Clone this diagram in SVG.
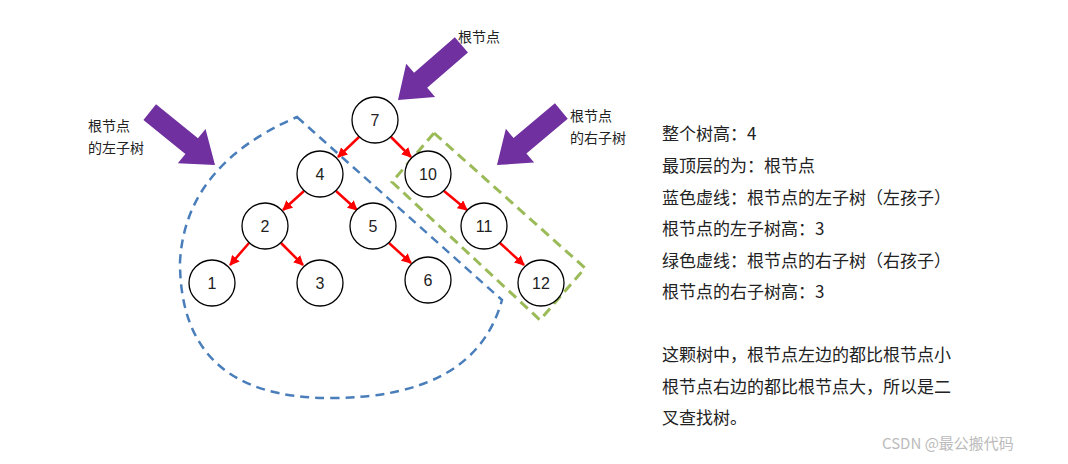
<svg xmlns="http://www.w3.org/2000/svg" width="1068" height="464" viewBox="0 0 1068 464">
<style>
text{font-family:"Noto Sans CJK SC","Liberation Sans",sans-serif;fill:#222}
.n circle{fill:#fff;stroke:#000;stroke-width:1.3}
.n text{font-size:16px;text-anchor:middle;font-family:"Liberation Sans","Noto Sans CJK SC",sans-serif}
.e line{stroke:#f00;stroke-width:2.5;marker-end:url(#ah)}
.lb{font-size:14px}
.r{font-size:17px}
.pa{fill:#7030a0}
</style>
<defs>
<marker id="ah" viewBox="0 0 10 10" refX="9" refY="5" markerWidth="4" markerHeight="4" orient="auto"><path d="M0,0L10,5L0,10z" fill="#f00"/></marker>
<polygon id="pa" class="pa" points="-84,-10 -30,-10 -30,-22 0,0 -30,22 -30,10 -84,10"/>
</defs>
<rect width="1068" height="464" fill="#fff"/>
<path d="M297,117 L502,300 Q475,398 330,398 Q180,398 180,262 Q185,165 297,117 Z" fill="none" stroke="#4a7ebb" stroke-width="2.5" stroke-dasharray="9,6"/>
<polygon points="434,133 585,268 540,320 392,182" fill="none" stroke="#9bbb59" stroke-width="3" stroke-dasharray="10,6"/>
<g id="arrows">
<use href="#pa" transform="translate(398,100) rotate(139)"/>
<use href="#pa" transform="translate(215,165) rotate(39)"/>
<use href="#pa" transform="translate(497,165) rotate(140)"/>
</g>
<text class="lb" x="458" y="42">根节点</text>
<text class="lb" x="88" y="131">根节点</text>
<text class="lb" x="88" y="153">的左子树</text>
<text class="lb" x="570" y="121">根节点</text>
<text class="lb" x="570" y="143">的右子树</text>
<g class="e" id="connectors">
<line x1="359" y1="137" x2="338" y2="157"/>
<line x1="391" y1="137" x2="411" y2="157"/>
<line x1="304" y1="191" x2="283" y2="210"/>
<line x1="336" y1="191" x2="357" y2="210"/>
<line x1="444" y1="191" x2="467" y2="210"/>
<line x1="249" y1="243" x2="230" y2="265"/>
<line x1="281" y1="243" x2="303" y2="265"/>
<line x1="389" y1="243" x2="411" y2="263"/>
<line x1="500" y1="243" x2="524" y2="265"/>
</g>
<g class="n" id="n7"><circle cx="375" cy="120" r="23"/><text x="375" y="126">7</text></g>
<g class="n" id="n4"><circle cx="320" cy="174" r="23"/><text x="320" y="180">4</text></g>
<g class="n" id="n10"><circle cx="428" cy="174" r="23"/><text x="428" y="180">10</text></g>
<g class="n" id="n2"><circle cx="265" cy="226" r="23"/><text x="265" y="232">2</text></g>
<g class="n" id="n5"><circle cx="373" cy="226" r="23"/><text x="373" y="232">5</text></g>
<g class="n" id="n11"><circle cx="484" cy="226" r="23"/><text x="484" y="232">11</text></g>
<g class="n" id="n1"><circle cx="212" cy="283" r="23"/><text x="212" y="289">1</text></g>
<g class="n" id="n3"><circle cx="320" cy="283" r="23"/><text x="320" y="289">3</text></g>
<g class="n" id="n6"><circle cx="428" cy="280" r="23"/><text x="428" y="286">6</text></g>
<g class="n" id="n12"><circle cx="541" cy="283" r="23"/><text x="541" y="289">12</text></g>
<g class="r">
<text x="662" y="140">整个树高：4</text>
<text x="662" y="172">最顶层的为：根节点</text>
<text x="662" y="204">蓝色虚线：根节点的左子树（左孩子）</text>
<text x="662" y="235">根节点的左子树高：3</text>
<text x="662" y="267">绿色虚线：根节点的右子树（右孩子）</text>
<text x="662" y="298">根节点的右子树高：3</text>
<text x="662" y="361">这颗树中，根节点左边的都比根节点小</text>
<text x="662" y="393">根节点右边的都比根节点大，所以是二</text>
<text x="662" y="424">叉查找树。</text>
</g>
<text x="882" y="449" style="font-size:15px;fill:#bbb">CSDN @最公搬代码</text>
</svg>
